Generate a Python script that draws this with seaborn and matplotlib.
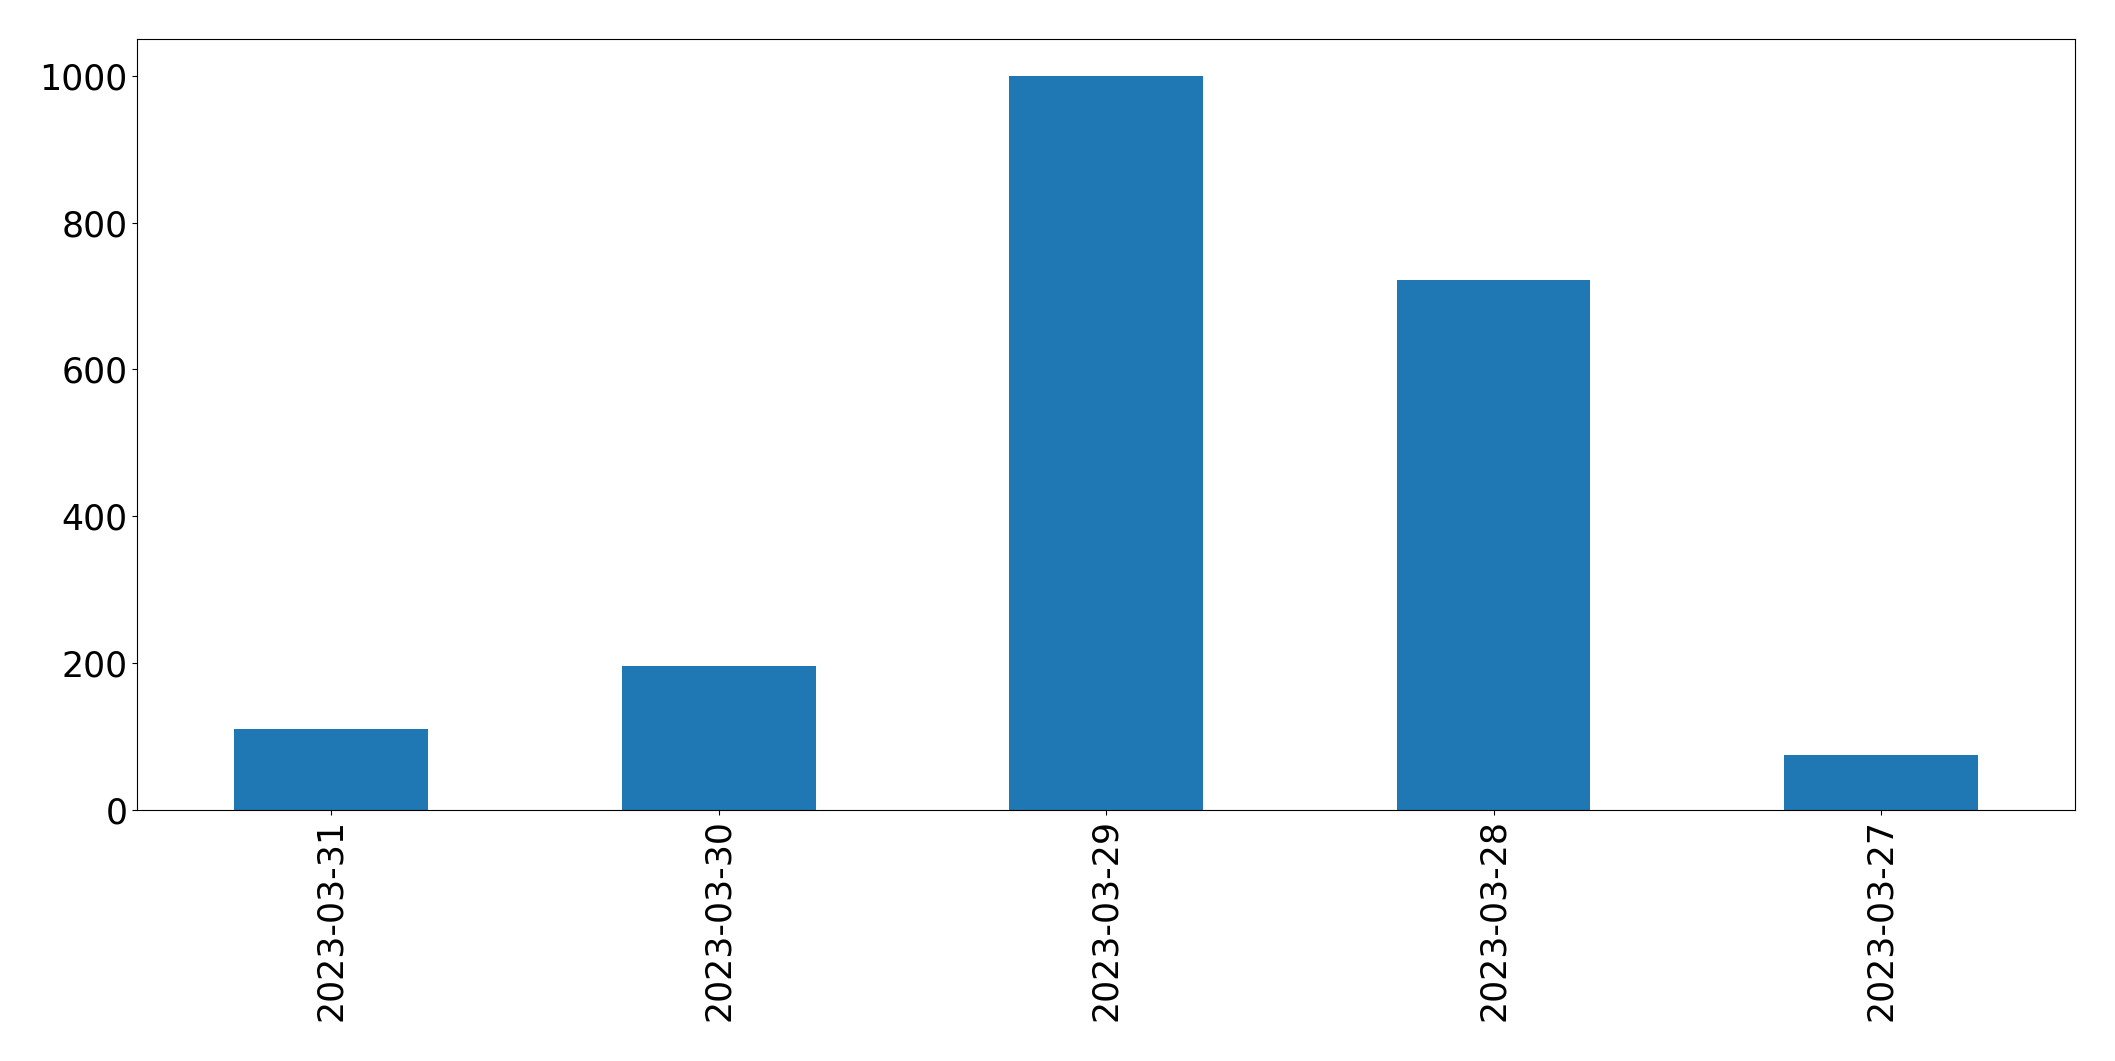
import seaborn as sns
import matplotlib.pyplot as plt
import pandas as pd

dates = ["2023-03-31", "2023-03-30", "2023-03-29", "2023-03-28", "2023-03-27"]
counts = [110, 195, 1000, 722, 74]

df = pd.DataFrame({"date": dates, "count": counts})

fig, ax = plt.subplots(figsize=(21.15, 10.61), dpi=100)
sns.barplot(data=df, x="date", y="count", color="#1f77b4", saturation=1,
			width=0.5, linewidth=0, ax=ax)
ax.set_ylim(0, 1050)
ax.set_xlim(-0.5, len(dates) - 0.5)
ax.set_xlabel("")
ax.set_ylabel("")
ax.tick_params(axis="both", labelsize=25)
ax.tick_params(axis="x", labelrotation=90)
plt.subplots_adjust(left=0.065, right=0.981, top=0.963, bottom=0.237)
plt.savefig("out.png")
